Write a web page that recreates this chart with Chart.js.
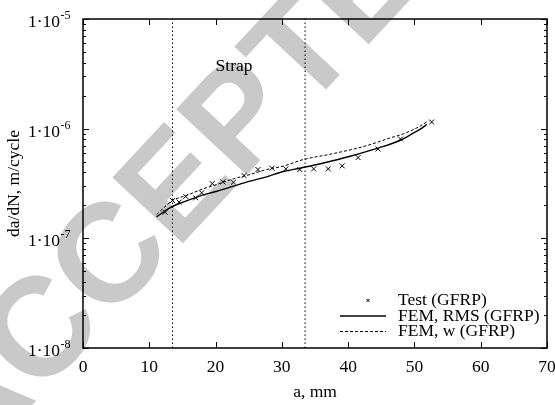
<!DOCTYPE html>
<html>
<head>
<meta charset="utf-8">
<script src="https://cdn.jsdelivr.net/npm/chart.js@4.4.0/dist/chart.umd.min.js"></script>
<style>
    html, body { margin: 0; padding: 0; background: #fff; }
</style>
</head>
<body>
<canvas id="graficaGrieta" width="555" height="405"></canvas>
<script>

// Datos de ensayo (GFRP): longitud de grieta a [mm] y velocidad da/dN [m/ciclo]
const ensayoA = [12.4, 13.5, 14.5, 15.5, 17.0, 17.9, 19.5, 21.1, 22.7, 24.3, 26.4, 28.5, 30.6, 32.7, 34.8, 37.0, 39.1, 41.5, 44.5, 47.9, 52.6];
const ensayoVel = [1.73e-7, 2.21e-7, 2.14e-7, 2.41e-7, 2.34e-7, 2.60e-7, 3.16e-7, 3.27e-7, 3.25e-7, 3.74e-7, 4.24e-7, 4.36e-7, 4.30e-7, 4.24e-7, 4.30e-7, 4.30e-7, 4.58e-7, 5.45e-7, 6.53e-7, 8.05e-7, 1.15e-6];

// FEM, RMS
const femRmsA = [11.1, 13.1, 15.1, 17.6, 20.2, 22.7, 25.2, 27.7, 30.2, 32.7, 35.3, 37.8, 40.3, 44.5, 47.8, 49.8, 51.6, 51.85];
const femRmsVel = [1.57e-7, 1.90e-7, 2.14e-7, 2.43e-7, 2.69e-7, 2.99e-7, 3.32e-7, 3.64e-7, 4.07e-7, 4.36e-7, 4.71e-7, 5.12e-7, 5.60e-7, 6.65e-7, 7.8e-7, 9.1e-7, 1.06e-6, 1.10e-6];

// FEM, w
const femWA = [11.1, 13.5, 15.6, 17.6, 20.2, 22.7, 25.2, 27.7, 30.2, 33.2, 37.8, 42.8, 46.3, 48.3, 50.8, 52.1];
const femWVel = [1.65e-7, 2.21e-7, 2.46e-7, 2.75e-7, 3.10e-7, 3.49e-7, 3.82e-7, 4.24e-7, 4.55e-7, 5.22e-7, 5.93e-7, 7.00e-7, 8.22e-7, 8.95e-7, 1.05e-6, 1.18e-6];

// limites de la zona del refuerzo (strap)
const limitesStrap = [13.5, 33.5];

// ejes
const ticksX = [0, 10, 20, 30, 40, 50, 60, 70];
const decadasY = [1e-8, 1e-7, 1e-6, 1e-5];

const etiquetas = ["Test (GFRP)", "FEM, RMS (GFRP)", "FEM, w (GFRP)"];

const fuente = '"Liberation Serif", "Times New Roman", serif';

function puntos(xs, ys) {
    return xs.map((x, i) => ({ x: x, y: ys[i] }));
}

const lineasStrap = limitesStrap.map(a => ({
    data: [{ x: a, y: decadasY[0] }, { x: a, y: decadasY[decadasY.length - 1] }],
    borderColor: "#000",
    borderWidth: 1,
    borderDash: [1.5, 2.5],
    pointRadius: 0,
    fill: false
}));

// marca de agua, ticks hacia dentro, leyenda y textos
const extras = {
    id: "extras",
    beforeDraw(chart) {
        const ctx = chart.ctx;
        ctx.save();
        ctx.translate(204, 164);
        ctx.rotate(-47 * Math.PI / 180);
        ctx.font = 'bold 140px "Liberation Sans", Arial, sans-serif';
        ctx.fillStyle = "#c9c9c9";
        ctx.textAlign = "center";
        ctx.textBaseline = "middle";
        ctx.fillText("ACCEPTED", 0, 0);
        ctx.restore();
    },
    afterDraw(chart) {
        const ctx = chart.ctx;
        const a = chart.chartArea;
        const sx = chart.scales.x, sy = chart.scales.y;
        ctx.save();
        ctx.strokeStyle = "#000";
        ctx.lineWidth = 1;

        // ticks x abajo y arriba
        ctx.beginPath();
        ticksX.forEach(v => {
            const px = Math.round(sx.getPixelForValue(v)) + 0.5;
            ctx.moveTo(px, a.bottom); ctx.lineTo(px, a.bottom - 6);
            ctx.moveTo(px, a.top); ctx.lineTo(px, a.top + 6);
        });
        // ticks y izquierda y derecha (mayores y menores)
        decadasY.forEach((d, i) => {
            const py = Math.round(sy.getPixelForValue(d)) + 0.5;
            ctx.moveTo(a.left, py); ctx.lineTo(a.left + 6, py);
            ctx.moveTo(a.right, py); ctx.lineTo(a.right - 6, py);
            if (i < decadasY.length - 1) {
                for (let k = 2; k <= 9; k++) {
                    const pm = Math.round(sy.getPixelForValue(k * d)) + 0.5;
                    ctx.moveTo(a.left, pm); ctx.lineTo(a.left + 3, pm);
                    ctx.moveTo(a.right, pm); ctx.lineTo(a.right - 3, pm);
                }
            }
        });
        ctx.stroke();

        // marco
        ctx.lineWidth = 1.5;
        ctx.strokeRect(a.left, a.top, a.right - a.left, a.bottom - a.top);

        ctx.fillStyle = "#000";

        // etiquetas del eje y: 1·10 con exponente
        ctx.textBaseline = "alphabetic";
        decadasY.forEach(d => {
            const py = sy.getPixelForValue(d);
            const e = Math.round(Math.log10(d));
            ctx.font = "17.5px " + fuente;
            ctx.textAlign = "right";
            ctx.fillText("1\u00B710", 60, py + 8);
            ctx.font = "12px " + fuente;
            ctx.textAlign = "left";
            ctx.fillText(String(e), 60.5, py);
        });

        ctx.font = "17.5px " + fuente;

        // texto Strap
        ctx.textAlign = "left";
        ctx.textBaseline = "middle";
        ctx.fillText("Strap", sx.getPixelForValue(20), sy.getPixelForValue(3.7e-6));

        // titulos de ejes
        ctx.textAlign = "center";
        ctx.fillText("a, mm", (a.left + a.right) / 2, 392);
        ctx.save();
        ctx.translate(14, (a.top + a.bottom) / 2);
        ctx.rotate(-Math.PI / 2);
        ctx.fillText("da/dN, m/cycle", 0, 0);
        ctx.restore();

        // leyenda
        const filas = [300.5, 316, 331.5];
        ctx.textAlign = "left";
        etiquetas.forEach((t, i) => ctx.fillText(t, 398, filas[i]));
        ctx.lineWidth = 1;
        ctx.beginPath();
        ctx.moveTo(366.5, filas[0] - 1.5); ctx.lineTo(369.5, filas[0] + 1.5);
        ctx.moveTo(369.5, filas[0] - 1.5); ctx.lineTo(366.5, filas[0] + 1.5);
        ctx.stroke();
        ctx.lineWidth = 1.4;
        ctx.beginPath();
        ctx.moveTo(340, filas[1]); ctx.lineTo(386, filas[1]);
        ctx.stroke();
        ctx.lineWidth = 1;
        ctx.setLineDash([3, 2]);
        ctx.beginPath();
        ctx.moveTo(340, filas[2]); ctx.lineTo(386, filas[2]);
        ctx.stroke();
        ctx.restore();
    }
};

const ctxGrafica = document.getElementById("graficaGrieta").getContext("2d");
const graficaGrieta = new Chart(ctxGrafica, {
    type: "line",
    data: {
        datasets: [
            {
                label: etiquetas[0],
                data: puntos(ensayoA, ensayoVel),
                showLine: false,
                pointStyle: "crossRot",
                pointRadius: 3.5,
                pointBorderColor: "#000",
                pointBorderWidth: 1,
                borderColor: "#000"
            },
            {
                label: etiquetas[1],
                data: puntos(femRmsA, femRmsVel),
                borderColor: "#000",
                borderWidth: 1.4,
                pointRadius: 0,
                cubicInterpolationMode: "monotone",
                fill: false
            },
            {
                label: etiquetas[2],
                data: puntos(femWA, femWVel),
                borderColor: "#000",
                borderWidth: 1,
                borderDash: [3, 2],
                pointRadius: 0,
                cubicInterpolationMode: "monotone",
                fill: false
            },
            ...lineasStrap
        ]
    },
    options: {
        responsive: false,
        animation: false,
        devicePixelRatio: 1,
        layout: { padding: { top: 19, right: 8, left: 0, bottom: 0 } },
        plugins: {
            legend: { display: false },
            tooltip: { enabled: false }
        },
        scales: {
            x: {
                type: "linear",
                min: 0,
                max: 70,
                grid: { display: false, drawTicks: false },
                border: { display: false },
                afterBuildTicks: s => { s.ticks = ticksX.map(v => ({ value: v })); },
                ticks: {
                    autoSkip: false,
                    maxRotation: 0,
                    padding: 9,
                    color: "#000",
                    font: { family: fuente, size: 17.5 }
                },
                afterFit: s => { s.height = 57; s.paddingLeft = 0; s.paddingRight = 0; }
            },
            y: {
                type: "logarithmic",
                min: 1e-8,
                max: 1e-5,
                grid: { display: false, drawTicks: false },
                border: { display: false },
                afterBuildTicks: s => { s.ticks = decadasY.map(v => ({ value: v })); },
                ticks: {
                    display: false
                },
                afterFit: s => { s.width = 83; s.paddingTop = 0; s.paddingBottom = 0; }
            }
        }
    },
    plugins: [extras]
});
</script>
</body>
</html>
